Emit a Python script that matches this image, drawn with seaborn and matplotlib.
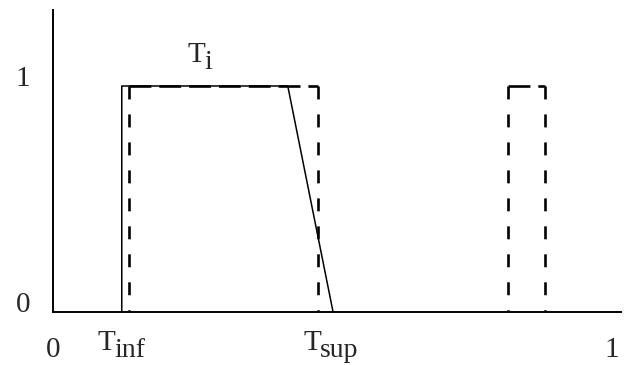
import numpy as np
import pandas as pd
import matplotlib
matplotlib.use("Agg")
import matplotlib.pyplot as plt
import seaborn as sns

# membership function T_i (solid) and crisp intervals (dashed)
solid_x = [0.123, 0.123, 0.420, 0.501]
solid_y = [0, 1, 1, 0]
dash1_x = [0.136, 0.136, 0.474, 0.474]
dash1_y = [0, 1, 1, 0]
dash2_x = [0.814, 0.814, 0.880, 0.880]
dash2_y = [0, 1, 1, 0]

y_ticks = [0, 1]
y_tick_labels = ["0", "1"]
x_ticks = [0, 1]
x_tick_labels = ["0", "1"]

# labels: (main, subscript, x of join, baseline y)
labels = [("T", "i", 0.273, 1.106), ("T", "inf", 0.111, -0.168), ("T", "sup", 0.480, -0.168)]

sns.set_theme(style="white")
plt.rcParams['font.family'] = ['Liberation Serif', 'DejaVu Serif']

fig = plt.figure(figsize=(6.29, 3.65), dpi=100)
ax = fig.add_axes([53 / 629, 1 - 312 / 365, 568 / 629, 302 / 365])

sns.lineplot(x=solid_x, y=solid_y, sort=False, estimator=None, color="black",
             lw=1.1, ax=ax)

# dashed boxes: vertical sides and top drawn with their own dash pattern
vert_dash = (0, (4.9, 5.7))
horiz_dash = (0, (8.3, 3.0))
for dx, dy in [(dash1_x, dash1_y), (dash2_x, dash2_y)]:
    for i in range(len(dx) - 1):
        seg_x = [dx[i], dx[i + 1]]
        seg_y = [dy[i], dy[i + 1]]
        if i == 0:  # draw from the top down
            seg_x, seg_y = seg_x[::-1], seg_y[::-1]
        ls = vert_dash if seg_x[0] == seg_x[1] else horiz_dash
        sns.lineplot(x=seg_x, y=seg_y, sort=False, estimator=None, color="black",
                     lw=1.9, ax=ax, linestyle=ls)

ax.set_xlim(0, 568 / 559)
ax.set_ylim(0, 302 / 226)
ax.set_xticks([])
ax.set_yticks([])
for s in ["top", "right"]:
    ax.spines[s].set_visible(False)
for s in ["left", "bottom"]:
    ax.spines[s].set_color("black")
    ax.spines[s].set_linewidth(1.4)

fs = 21
for v, t in zip(y_ticks, y_tick_labels):
    ax.annotate(t, xy=(0, v), xycoords=("axes fraction", "data"), xytext=(-30, 0),
                textcoords="offset pixels", ha="center", va="baseline", fontsize=fs)
for v, t in zip(x_ticks, x_tick_labels):
    ax.annotate(t, xy=(v, 0), xycoords=("data", "axes fraction"), xytext=(0, -45),
                textcoords="offset pixels", ha="center", va="baseline", fontsize=fs)

for main, sub, x, y in labels:
    ax.text(x, y, main, ha="right", va="baseline", fontsize=fs, clip_on=False)
    ax.annotate(sub, xy=(x, y), xycoords="data", xytext=(-1, -7),
                textcoords="offset pixels", ha="left", va="baseline", fontsize=fs * 0.95,
                annotation_clip=False)

fig.savefig("out.png", dpi=100)
